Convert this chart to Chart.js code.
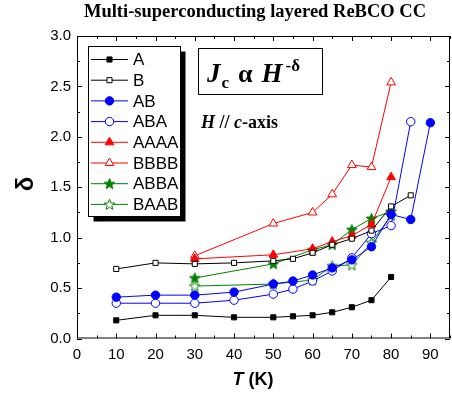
<!DOCTYPE html>
<html>
<head>
<meta charset="utf-8">
<script src="https://cdn.jsdelivr.net/npm/chart.js@4/dist/chart.umd.min.js"></script>
<style>
  html,body{margin:0;padding:0;background:#fff;overflow:hidden;}
  #wrap{width:456px;height:394px;}
</style>
</head>
<body>
<div id="wrap"><canvas id="c" width="456" height="394"></canvas></div>
<script>
// temperatures (K) and exponent delta for each layered sample
const tA    = [10, 20, 30, 40, 50, 55, 60, 65, 70, 75, 80];
const dA    = [0.18, 0.23, 0.23, 0.21, 0.21, 0.22, 0.23, 0.26, 0.31, 0.38, 0.61];
const tB    = [10, 20, 30, 40, 50, 55, 60, 65, 70, 75, 80, 85];
const dB    = [0.69, 0.75, 0.74, 0.75, 0.77, 0.79, 0.85, 0.93, 0.99, 1.07, 1.31, 1.42];
const tAB   = [10, 20, 30, 40, 50, 55, 60, 65, 70, 75, 80, 85, 90];
const dAB   = [0.41, 0.43, 0.43, 0.46, 0.54, 0.57, 0.63, 0.70, 0.78, 0.91, 1.23, 1.18, 2.14];
const tABA  = [10, 20, 30, 40, 50, 55, 60, 65, 70, 75, 80, 85];
const dABA  = [0.35, 0.35, 0.35, 0.38, 0.44, 0.49, 0.57, 0.67, 0.80, 1.04, 1.12, 2.15];
const tAAAA = [30, 50, 60, 65, 70, 75, 80];
const dAAAA = [0.79, 0.83, 0.89, 0.96, 1.02, 1.13, 1.60];
const tBBBB = [30, 50, 60, 65, 70, 75, 80];
const dBBBB = [0.82, 1.14, 1.25, 1.43, 1.72, 1.70, 2.54];
const tABBA = [30, 50, 60, 65, 70, 75, 80];
const dABBA = [0.60, 0.74, 0.88, 0.93, 1.08, 1.19, 1.26];
const tBAAB = [30, 50, 60, 65, 70, 75, 80];
const dBAAB = [0.52, 0.54, 0.58, 0.72, 0.73, 0.95, 1.22];

const xTicks = [0, 10, 20, 30, 40, 50, 60, 70, 80, 90];
const yTicks = [0, 0.5, 1.0, 1.5, 2.0, 2.5, 3.0];

const BLUE = '#0000ff', RED = '#ff0000', GREEN = '#008000';

function starImg(color, filled){
  const s = 13, c = document.createElement('canvas');
  c.width = s; c.height = s;
  const g = c.getContext('2d');
  const R = 5.6, r = 2.4, cx = s/2, cy = s/2 + 0.4;
  g.beginPath();
  for(let i=0;i<10;i++){
    const a = -Math.PI/2 + i*Math.PI/5;
    const rr = i%2 ? r : R;
    g.lineTo(cx + rr*Math.cos(a), cy + rr*Math.sin(a));
  }
  g.closePath();
  g.fillStyle = filled ? color : '#fff';
  g.fill();
  g.lineWidth = 1;
  g.strokeStyle = color;
  g.stroke();
  return c;
}

function pts(t, d){ return t.map((x,i)=>({x, y:d[i]})); }

function series(label, t, d, color, style, filled, radius){
  return {
    label, data: pts(t, d),
    borderColor: color, borderWidth: 1,
    pointStyle: style, pointRadius: radius, pointHoverRadius: radius,
    pointBackgroundColor: filled ? color : '#fff',
    pointBorderColor: color, pointBorderWidth: 1,
    fill: false, tension: 0
  };
}

const datasets = [
  series('A', tA, dA, '#000', 'rect', true, 3.6),
  series('B', tB, dB, '#000', 'rect', false, 3.6),
  series('AB', tAB, dAB, BLUE, 'circle', true, 4.2),
  series('ABA', tABA, dABA, BLUE, 'circle', false, 4.2),
  series('AAAA', tAAAA, dAAAA, RED, 'triangle', true, 5),
  series('BBBB', tBBBB, dBBBB, RED, 'triangle', false, 5),
  series('ABBA', tABBA, dABBA, GREEN, starImg(GREEN, true), true, 5),
  series('BAAB', tBAAB, dBAAB, GREEN, starImg(GREEN, false), false, 5)
];

// frame, inward ticks, legend and text
const decor = {
  id: 'decor',
  afterDraw(chart){
    const ctx = chart.ctx, a = chart.chartArea;
    const xs = chart.scales.x, ys = chart.scales.y;
    ctx.save();
    ctx.strokeStyle = '#000';
    ctx.lineWidth = 1;
    ctx.beginPath();
    ctx.rect(a.left + 0.5, a.top + 0.5, a.right - a.left - 1, a.bottom - a.top - 1);
    ctx.stroke();

    ctx.beginPath();
    for(let v = 0; v <= 95; v += 5){
      const px = Math.round(xs.getPixelForValue(v)) + 0.5;
      const len = v % 10 === 0 ? 5 : 3;
      ctx.moveTo(px, a.bottom); ctx.lineTo(px, a.bottom - len);
      ctx.moveTo(px, a.top); ctx.lineTo(px, a.top + len);
    }
    for(let i = 0; i <= 12; i++){
      const v = i * 0.25;
      const py = Math.round(ys.getPixelForValue(v)) + 0.5;
      const len = i % 2 === 0 ? 5 : 3;
      ctx.moveTo(a.left, py); ctx.lineTo(a.left + len, py);
      ctx.moveTo(a.right, py); ctx.lineTo(a.right - len, py);
    }
    ctx.stroke();

    // legend with shadow
    const lx = 88.5, ly = 46.5, lw = 92, lh = 170;
    ctx.fillStyle = '#000';
    ctx.fillRect(lx + 5, ly + 5, lw, lh);
    ctx.fillStyle = '#fff';
    ctx.fillRect(lx, ly, lw, lh);
    ctx.strokeRect(lx, ly, lw, lh);
    ctx.font = '17px "Liberation Sans", Arial, sans-serif';
    ctx.textBaseline = 'middle';
    chart.data.datasets.forEach((ds, i) => {
      const y = 59.5 + i * 20.7;
      ctx.strokeStyle = ds.borderColor;
      ctx.lineWidth = 1;
      ctx.beginPath(); ctx.moveTo(91, y); ctx.lineTo(128, y); ctx.stroke();
      ctx.fillStyle = ds.pointBackgroundColor;
      Chart.helpers.drawPoint(ctx, {pointStyle: ds.pointStyle, radius: ds.pointRadius, borderWidth: 1, rotation: 0}, 109.5, y);
      ctx.fillStyle = '#000';
      ctx.fillText(ds.label, 133, y + 1);
    });

    // formula box
    ctx.strokeStyle = '#000';
    ctx.lineWidth = 1;
    ctx.strokeRect(198.5, 48.5, 124, 46);
    ctx.fillStyle = '#000';
    ctx.textBaseline = 'alphabetic';
    const serif = '"Liberation Serif", "Times New Roman", serif';
    let x = 207;
    ctx.font = 'italic bold 27px ' + serif; ctx.fillText('J', x, 82); x += ctx.measureText('J').width + 1;
    ctx.font = 'bold 17px ' + serif; ctx.fillText('c', x, 88); x += ctx.measureText('c').width + 9;
    ctx.font = 'bold 26px ' + serif; ctx.fillText('\u03b1', x, 82); x += ctx.measureText('\u03b1').width + 9;
    ctx.font = 'italic bold 27px ' + serif; ctx.fillText('H', x, 82); x += ctx.measureText('H').width + 3;
    ctx.font = 'bold 17px ' + serif; ctx.fillText('-\u03b4', x, 71);

    x = 201;
    ctx.font = 'italic bold 18px ' + serif; ctx.fillText('H', x, 128); x += ctx.measureText('H ').width;
    ctx.font = 'bold 18px ' + serif; ctx.fillText('// ', x, 128); x += ctx.measureText('// ').width;
    ctx.font = 'italic bold 18px ' + serif; ctx.fillText('c', x, 128); x += ctx.measureText('c').width;
    ctx.font = 'bold 18px ' + serif; ctx.fillText('-axis', x, 128);

    // title
    ctx.textAlign = 'center';
    ctx.font = 'bold 18.5px ' + serif;
    ctx.fillText('Multi-superconducting layered ReBCO CC', 255, 17);

    // x title
    ctx.textAlign = 'left';
    const sans = '"Liberation Sans", Arial, sans-serif';
    ctx.font = 'italic bold 18px ' + sans;
    const wT = ctx.measureText('T').width;
    ctx.font = 'bold 18px ' + sans;
    const wK = ctx.measureText(' (K)').width;
    let tx = 253 - (wT + wK) / 2;
    ctx.font = 'italic bold 18px ' + sans; ctx.fillText('T', tx, 385);
    ctx.font = 'bold 18px ' + sans; ctx.fillText(' (K)', tx + wT, 385);

    // y title
    ctx.translate(26, 184);
    ctx.rotate(-Math.PI / 2);
    ctx.textAlign = 'center';
    ctx.textBaseline = 'middle';
    ctx.font = 'bold 24px ' + sans;
    ctx.fillText('\u03b4', 0, 0);
    ctx.restore();
  }
};

new Chart(document.getElementById('c'), {
  type: 'line',
  data: { datasets },
  options: {
    responsive: false,
    animation: false,
    devicePixelRatio: 1,
    layout: { padding: { top: 36, right: 2, left: 0, bottom: 0 } },
    plugins: { legend: { display: false }, tooltip: { enabled: false }, title: { display: false } },
    scales: {
      x: {
        type: 'linear', min: 0, max: 95,
        grid: { display: false, drawTicks: false },
        border: { display: false },
        afterBuildTicks(s){ s.ticks = xTicks.map(v => ({ value: v })); },
        afterFit(s){ s.height = 55.5; },
        ticks: { padding: 7, color: '#000', maxRotation: 0, autoSkip: false,
          font: { family: '"Liberation Sans", Arial, sans-serif', size: 15 } }
      },
      y: {
        type: 'linear', min: 0, max: 3,
        grid: { display: false, drawTicks: false },
        border: { display: false },
        afterBuildTicks(s){ s.ticks = yTicks.map(v => ({ value: v })); },
        afterFit(s){ s.width = 77; },
        ticks: { padding: 6, color: '#000', autoSkip: false,
          callback: v => Number(v).toFixed(1),
          font: { family: '"Liberation Sans", Arial, sans-serif', size: 15 } }
      }
    }
  },
  plugins: [decor]
});
</script>
</body>
</html>
